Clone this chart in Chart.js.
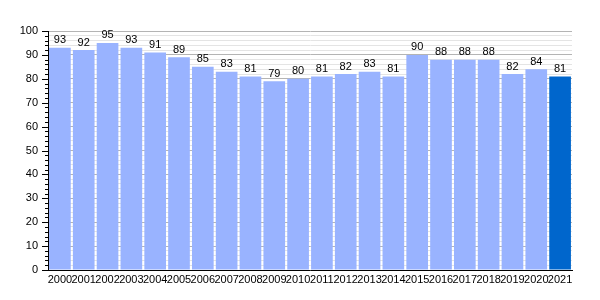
<!DOCTYPE html>
<html>
<head>
<meta charset="utf-8">
<script src="https://cdn.jsdelivr.net/npm/chart.js@4"></script>
<style>
  html, body { margin: 0; padding: 0; background: #fff; }
  #wrap { width: 600px; height: 300px; }
</style>
</head>
<body>
<div id="wrap"><canvas id="chart"></canvas></div>
<script>
const years = ['2000', '2001', '2002', '2003', '2004', '2005', '2006', '2007', '2008', '2009', '2010',
  '2011', '2012', '2013', '2014', '2015', '2016', '2017', '2018', '2019', '2020', '2021'];
const values = [93, 92, 95, 93, 91, 89, 85, 83, 81, 79, 80, 81, 82, 83, 81, 90, 88, 88, 88, 82, 84, 81];
const yMax = 100;
const yMajorStep = 10;
const yMinorStep = 2;

const FONT = 'Liberation Sans, Arial, sans-serif';

// value labels above each bar
const barLabels = {
  id: 'barLabels',
  afterDatasetsDraw(chart) {
    const ctx = chart.ctx;
    const meta = chart.getDatasetMeta(0);
    ctx.save();
    ctx.font = '11px ' + FONT;
    ctx.fillStyle = '#000';
    ctx.textAlign = 'center';
    ctx.textBaseline = 'bottom';
    meta.data.forEach((bar, i) => {
      ctx.fillText(String(values[i]), bar.x, bar.y - 2);
    });
    ctx.restore();
  }
};

// major / minor tick marks on the left axis
const yTickMarks = {
  id: 'yTickMarks',
  afterDraw(chart) {
    const ctx = chart.ctx;
    const y = chart.scales.y;
    const x0 = chart.chartArea.left;
    ctx.save();
    ctx.strokeStyle = '#000';
    ctx.lineWidth = 1;
    for (let v = 0; v <= yMax; v += yMinorStep) {
      const py = Math.round(y.getPixelForValue(v)) + 0.5;
      const len = v % yMajorStep === 0 ? 6 : 3;
      ctx.beginPath();
      ctx.moveTo(x0 - len, py);
      ctx.lineTo(x0, py);
      ctx.stroke();
    }
    ctx.restore();
  }
};

new Chart(document.getElementById('chart'), {
  type: 'bar',
  data: {
    labels: years,
    datasets: [{
      data: values,
      backgroundColor: values.map((_, i) => i === values.length - 1 ? '#0066cc' : '#99b3ff'),
      borderWidth: 0,
      barPercentage: 0.91,
      categoryPercentage: 1.0
    }]
  },
  options: {
    responsive: true,
    maintainAspectRatio: false,
    animation: false,
    layout: { padding: { top: 31, right: 28, left: 0, bottom: 0 } },
    plugins: { legend: { display: false }, tooltip: { enabled: false } },
    scales: {
      x: {
        grid: { display: false, drawTicks: false },
        border: { color: '#000', width: 1 },
        ticks: {
          autoSkip: false,
          maxRotation: 0,
          minRotation: 0,
          padding: 3,
          color: '#000',
          font: { family: FONT, size: 11 }
        },
        afterFit(scale) { scale.height = 30; }
      },
      y: {
        min: 0,
        max: yMax,
        grid: {
          color: ctx => ctx.tick.value % yMajorStep === 0 ? '#b4b4b4' : '#e4e4e4',
          drawTicks: false
        },
        border: { color: '#000', width: 1 },
        ticks: {
          stepSize: yMinorStep,
          autoSkip: false,
          padding: 10,
          color: '#000',
          font: { family: FONT, size: 11 },
          callback: v => v % yMajorStep === 0 ? v : ''
        },
        afterFit(scale) { scale.width = 48; }
      }
    }
  },
  plugins: [barLabels, yTickMarks]
});
</script>
</body>
</html>
